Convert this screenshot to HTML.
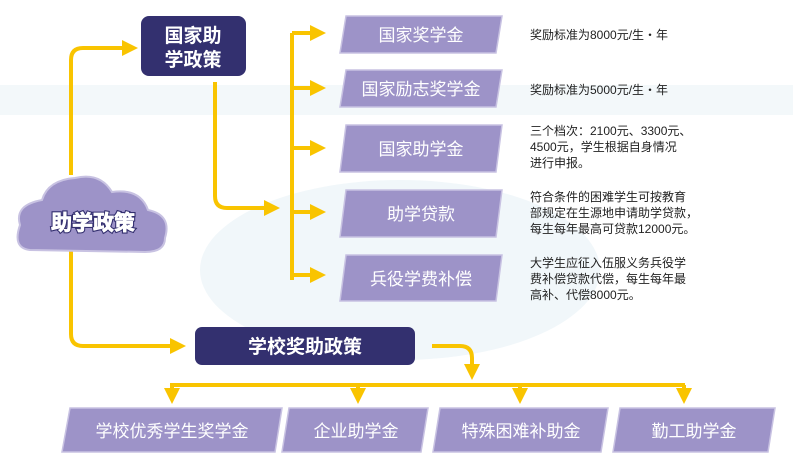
<!DOCTYPE html>
<html><head><meta charset="utf-8"><style>
body{margin:0;width:793px;height:472px;overflow:hidden;background:#fff;font-family:"Liberation Sans","Noto Sans CJK SC",sans-serif}
svg{display:block}
.t{font-family:"Liberation Sans","Noto Sans CJK SC",sans-serif}
</style></head><body>
<svg width="793" height="472" viewBox="0 0 793 472" xmlns="http://www.w3.org/2000/svg">
<defs>
<marker id="a" markerWidth="4" markerHeight="4" refX="2" refY="2" orient="auto" markerUnits="strokeWidth"><path d="M0,0 L4,2 L0,4 z" fill="#f9c400"/></marker>
</defs>
<rect width="793" height="472" fill="#fff"/>
<rect x="0" y="85" width="793" height="30" fill="#f3f8fa"/>
<ellipse cx="400" cy="270" rx="200" ry="90" fill="#f1f7fa"/>
<g fill="none" stroke="#f9c400" stroke-width="4">
<path d="M71,175 V60 Q71,48 83,48 H130" marker-end="url(#a)"/>
<path d="M215,82 V196 Q215,208 227,208 H272" marker-end="url(#a)"/>
<path d="M292,280 V33"/>
<path d="M292,33 H318" marker-end="url(#a)"/>
<path d="M292,88 H318" marker-end="url(#a)"/>
<path d="M292,148 H318" marker-end="url(#a)"/>
<path d="M292,212 H318" marker-end="url(#a)"/>
<path d="M292,275 H318" marker-end="url(#a)"/>
<path d="M71,250 V334 Q71,346 83,346 H178" marker-end="url(#a)"/>
<path d="M432,346 H460 Q472,346 472,358 V372" marker-end="url(#a)"/>
<path d="M170,385 H685"/>
<path d="M172,385 V396" marker-end="url(#a)"/>
<path d="M358,385 V396" marker-end="url(#a)"/>
<path d="M520,385 V396" marker-end="url(#a)"/>
<path d="M684,385 V396" marker-end="url(#a)"/>
</g>
<g fill="#9d93c8" stroke="#c8c2e2" stroke-width="2">
<path d="M30,250 Q12,248 20,225 Q14,205 42,200 Q48,180 75,178 Q100,172 112,192 Q140,188 148,210 Q172,215 165,238 Q165,252 145,252 Z"/>
</g>
<text x="93" y="230" class="t" font-size="21" font-weight="bold" fill="#fff" stroke="#332f6f" stroke-width="3" paint-order="stroke" text-anchor="middle">助学政策</text>
<text x="93" y="230" class="t" font-size="21" font-weight="bold" fill="#fff" stroke="#fff" stroke-width="0.8" text-anchor="middle">助学政策</text>
<rect x="141" y="16" width="105" height="60" rx="8" fill="#33306f"/>
<text x="193" y="42" class="t" font-size="19" font-weight="bold" fill="#fff" text-anchor="middle">国家助</text>
<text x="193" y="66" class="t" font-size="19" font-weight="bold" fill="#fff" text-anchor="middle">学政策</text>
<g fill="#9d93c8" stroke="#c8c2e2" stroke-width="1.5">
<path d="M346,16 H502 L496,53 H340 Z"/>
<path d="M346,70 H502 L496,107 H340 Z"/>
<path d="M346,125 H502 L496,172 H340 Z"/>
<path d="M346,190 H502 L496,237 H340 Z"/>
<path d="M346,255 H502 L496,301 H340 Z"/>
</g>
<g class="t" font-size="17" fill="#fff" text-anchor="middle">
<text x="421" y="41">国家奖学金</text>
<text x="421" y="95">国家励志奖学金</text>
<text x="421" y="155">国家助学金</text>
<text x="421" y="220">助学贷款</text>
<text x="421" y="285">兵役学费补偿</text>
</g>
<g class="t" font-size="12" fill="#222">
<text x="530" y="39">奖励标准为8000元/生・年</text>
<text x="530" y="94">奖励标准为5000元/生・年</text>
<text x="530" y="135">三个档次：2100元、3300元、</text>
<text x="530" y="151">4500元，学生根据自身情况</text>
<text x="530" y="167">进行申报。</text>
<text x="530" y="201">符合条件的困难学生可按教育</text>
<text x="530" y="217">部规定在生源地申请助学贷款，</text>
<text x="530" y="233">每生每年最高可贷款12000元。</text>
<text x="530" y="267">大学生应征入伍服义务兵役学</text>
<text x="530" y="283">费补偿贷款代偿，每生每年最</text>
<text x="530" y="299">高补、代偿8000元。</text>
</g>
<rect x="195" y="327" width="220" height="38" rx="7" fill="#33306f"/>
<text x="305" y="353" class="t" font-size="19" font-weight="bold" fill="#fff" text-anchor="middle">学校奖助政策</text>
<g fill="#9d93c8" stroke="#c8c2e2" stroke-width="1.5">
<path d="M70,408 H282 L275,452 H62 Z"/>
<path d="M289,408 H428 L421,452 H282 Z"/>
<path d="M440,408 H608 L601,452 H433 Z"/>
<path d="M620,408 H775 L768,452 H613 Z"/>
</g>
<g class="t" font-size="17" fill="#fff" text-anchor="middle">
<text x="172" y="437">学校优秀学生奖学金</text>
<text x="356" y="437">企业助学金</text>
<text x="521" y="437">特殊困难补助金</text>
<text x="694" y="437">勤工助学金</text>
</g>
</svg>
</body></html>
